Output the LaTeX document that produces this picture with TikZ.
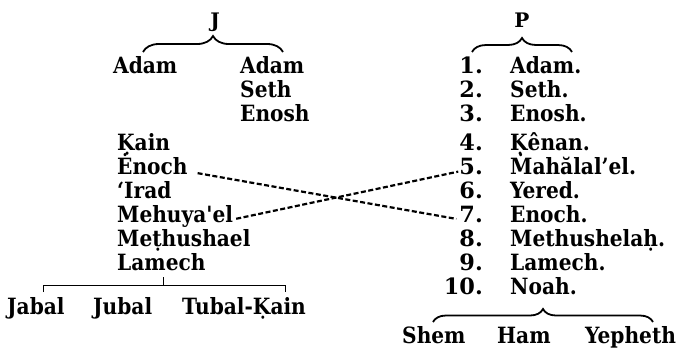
\documentclass[tikz,border=0pt]{standalone}
\usepackage{fontspec}
\setmainfont{DejaVu Serif}
\newfontfamily\thick{DejaVu Serif Condensed}
\usetikzlibrary{decorations.pathreplacing}
\begin{document}
\begin{tikzpicture}[x=1pt,y=-1pt,
  nm/.style={font=\fontsize{22.4}{25}\selectfont\thick\bfseries, inner sep=0pt, anchor=base west},
  num/.style={font=\fontsize{22.4}{25}\selectfont\bfseries, inner sep=0pt, anchor=base east},
  head/.style={font=\fontsize{20}{24}\selectfont\bfseries, inner sep=0pt, anchor=base},
  curly/.style={decorate, decoration={brace, amplitude=#1}, line width=1.8pt},
  link/.style={line width=2.2pt, dash pattern=on 5pt off 2.5pt},
  bar/.style={line width=1pt}]
\useasboundingbox (0,0) rectangle (676,357);
% J column
\node[head] (J) at (215,27) {J};
\draw[curly=16pt] (143,52) -- (283,52);
\node[nm] (adamL) at (113,73) {Adam};
\node[nm] (adamR) at (240,73) {Adam};
\node[nm] (sethJ) at (240,97) {Seth};
\node[nm] (enoshJ) at (240,121) {Enosh};
\node[nm] (kain) at (117,150) {Ḳain};
\node[nm] (enochJ) at (117,174) {Ėnoch};
\node[nm] (irad) at (117,198) {‘Irad};
\node[nm] (mehuyael) at (117,222) {Mehuya'el};
\node[nm] (methushael) at (117,246) {Meṭhushael};
\node[nm] (lamechJ) at (117,270) {Lamech};
\coordinate (bl) at (43,292);
\coordinate (br) at (285,292);
\coordinate (bstem) at (163,285);
\draw[bar] (bl) -- (bl |- bstem) -- (br |- bstem) -- (br);
\draw[bar] (bstem) -- ++(0,-8);
\node[nm] (jabal) at (7,314) {Jabal};
\node[nm] (jubal) at (93,314) {Jubal};
\node[nm] (tubal) at (182,314) {Tubal-Ḳain};
% P column
\node[head] (P) at (522,27) {P};
\draw[curly=14pt] (472,52) -- (572,52);
\node[num] (n1) at (483,73) {1.};
\node[num] (n2) at (483,97) {2.};
\node[num] (n3) at (483,121) {3.};
\node[num] (n4) at (483,150) {4.};
\node[num] (n5) at (483,174) {5.};
\node[num] (n6) at (483,198) {6.};
\node[num] (n7) at (483,222) {7.};
\node[num] (n8) at (483,246) {8.};
\node[num] (n9) at (483,270) {9.};
\node[num] (n10) at (483,294) {10.};
\node[nm] (p1) at (510,73) {Adam.};
\node[nm] (p2) at (510,97) {Seth.};
\node[nm] (p3) at (510,121) {Enosh.};
\node[nm] (p4) at (510,150) {Ḳênan.};
\node[nm] (p5) at (510,174) {Ṁahălal’el.};
\node[nm] (p6) at (510,198) {Yered.};
\node[nm] (p7) at (510,222) {Enoch.};
\node[nm] (p8) at (510,246) {Methushelaḥ.};
\node[nm] (p9) at (510,270) {Lamech.};
\node[nm] (p10) at (510,294) {Noah.};
\draw[curly=13pt] (433,322) -- (653,322);
\node[nm] (shem) at (402,343) {Shem};
\node[nm] (ham) at (497,343) {Ham};
\node[nm] (yepheth) at (585,343) {Yepheth};
% dashed links
\draw[link, shorten <=10pt, shorten >=3pt] (enochJ.mid east) -- (n7.mid west);
\draw[link, shorten <=3pt, shorten >=1pt] (mehuyael.mid east) -- (n5.mid west);
\end{tikzpicture}
\end{document}
